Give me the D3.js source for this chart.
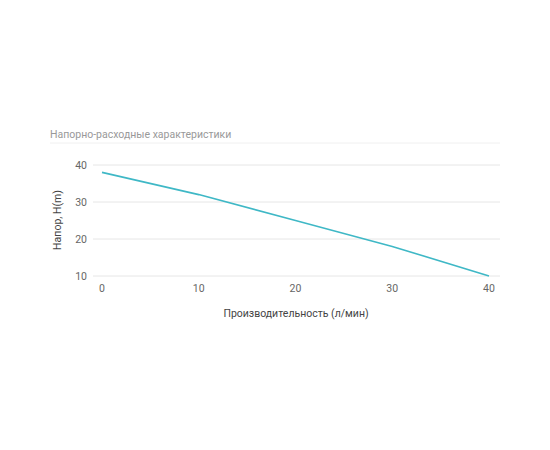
<!DOCTYPE html>
<html><head><meta charset="utf-8">
<script src="https://cdn.jsdelivr.net/npm/d3@7"></script>
<style>body{margin:0;background:#fff;font-family:Roboto,sans-serif}</style>
</head><body><svg width="550" height="450"></svg>
<script>
const flow = [0, 10, 20, 30, 40];
const head = [38, 32, 25, 18, 10];
const yTicks = [10, 20, 30, 40];
const xTicks = [0, 10, 20, 30, 40];

const svg = d3.select('svg');
const x = d3.scaleLinear().domain([0, 40]).range([102, 489]);
const y = d3.scaleLinear().domain([10, 40]).range([276, 165]);

svg.append('text').attr('x', 50).attr('y', 138)
  .attr('font-size', 10.5).attr('fill', '#999').text('Напорно-расходные характеристики');
svg.append('line').attr('x1', 50).attr('x2', 500).attr('y1', 143).attr('y2', 143)
  .attr('stroke', '#f0f0f0');

svg.append('g').selectAll('line').data(yTicks).join('line')
  .attr('x1', 93).attr('x2', 500).attr('y1', d => y(d)).attr('y2', d => y(d))
  .attr('stroke', '#e6e6e6');

svg.append('g').selectAll('text').data(yTicks).join('text')
  .attr('x', 87).attr('y', d => y(d) + 4).attr('text-anchor', 'end')
  .attr('font-size', 10.5).attr('fill', '#666').text(d => d);

svg.append('g').selectAll('text').data(xTicks).join('text')
  .attr('x', d => x(d)).attr('y', 292).attr('text-anchor', 'middle')
  .attr('font-size', 10.5).attr('fill', '#666').text(d => d);

svg.append('text').attr('x', 296).attr('y', 317).attr('text-anchor', 'middle')
  .attr('font-size', 10.5).attr('fill', '#444').text('Производительность (л/мин)');
svg.append('text').attr('transform', 'translate(61,220) rotate(-90)')
  .attr('text-anchor', 'middle').attr('font-size', 10.5).attr('fill', '#444').text('Напор, H(m)');

svg.append('path').datum(flow.map((f, i) => [f, head[i]]))
  .attr('fill', 'none').attr('stroke', '#3fb8c6').attr('stroke-width', 1.6)
  .attr('d', d3.line().x(d => x(d[0])).y(d => y(d[1])));
</script></body></html>
